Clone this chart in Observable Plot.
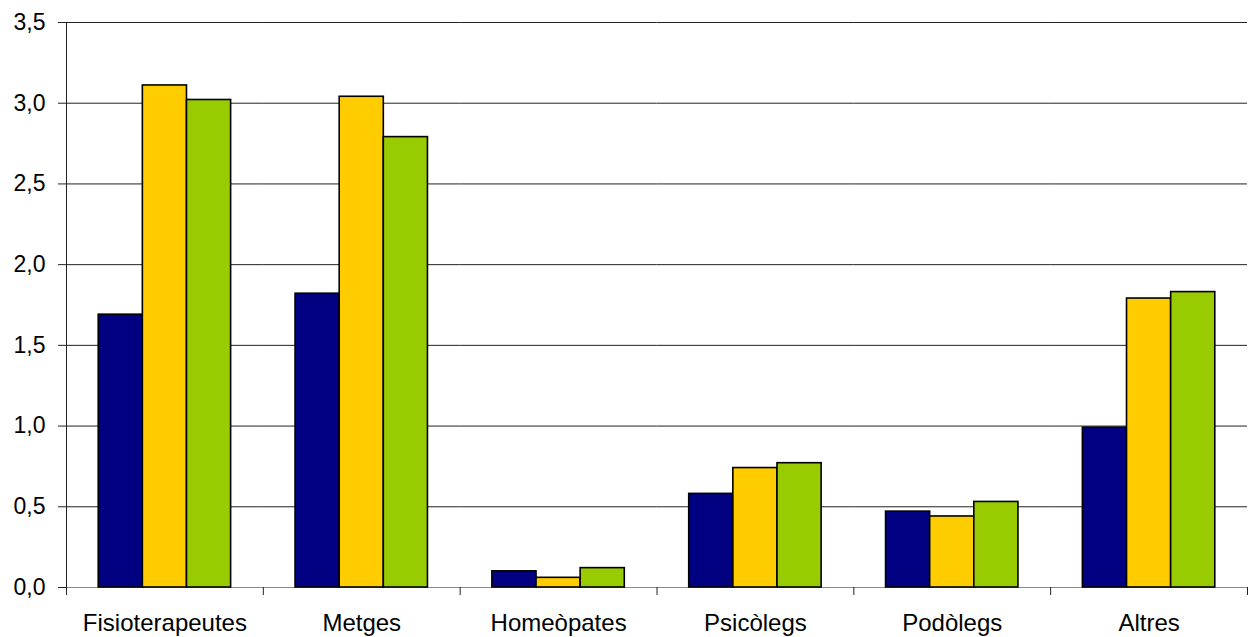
<!DOCTYPE html>
<html>
<head>
<meta charset="utf-8">
<script src="https://cdn.jsdelivr.net/npm/d3@7"></script>
<script src="https://cdn.jsdelivr.net/npm/@observablehq/plot@0.6"></script>
<style>
  html, body { margin: 0; padding: 0; background: #fff; }
  #chart svg { display: block; }
</style>
</head>
<body>
<div id="chart"></div>
<script>
// Professional groups on the horizontal axis
const categories = ["Fisioterapeutes", "Metges", "Homeòpates", "Psicòlegs", "Podòlegs", "Altres"];
// Three series shown side by side in every group
const seriesNames = ["Sèrie 1", "Sèrie 2", "Sèrie 3"];
const serie1 = [1.69, 1.82, 0.10, 0.58, 0.47, 0.99];
const serie2 = [3.11, 3.04, 0.06, 0.74, 0.44, 1.79];
const serie3 = [3.02, 2.79, 0.12, 0.77, 0.53, 1.83];
const seriesColors = ["#000080", "#ffcc00", "#99cc00"];
const yTicks = [0, 0.5, 1, 1.5, 2, 2.5, 3, 3.5];

const seriesValues = [serie1, serie2, serie3];
const rows = categories.flatMap((category, i) =>
  seriesNames.map((series, j) => ({category, series, value: seriesValues[j][i]}))
);

const width = 1250, height = 637;
const margin = {top: 22, right: 3, bottom: 50, left: 66};
const frameHeight = height - margin.top - margin.bottom;
const commaDecimal = v => v.toFixed(1).replace(".", ",");

const chart = Plot.plot({
  width, height,
  marginTop: margin.top, marginRight: margin.right,
  marginBottom: margin.bottom, marginLeft: margin.left,
  style: {fontFamily: "'Liberation Sans', Arial, sans-serif", color: "#000", background: "#fff"},
  fx: {domain: categories, padding: 0, round: false, label: null},
  x: {domain: seriesNames, paddingInner: 0, paddingOuter: 0.73, round: false, axis: null},
  y: {domain: [0, 3.5], label: null, axis: null},
  color: {domain: seriesNames, range: seriesColors},
  marks: [
    Plot.gridY(yTicks, {stroke: "#222", strokeOpacity: 1, strokeWidth: 1}),
    Plot.ruleY([0], {stroke: "#8a8a8a", strokeWidth: 1.2}),
    Plot.barY(rows, {fx: "category", x: "series", y: "value", fill: "series", stroke: "#000", strokeWidth: 1.6}),
    // category boundary ticks below the baseline
    Plot.frame({anchor: "left", insetTop: frameHeight, insetBottom: -7, stroke: "#222"}),
    Plot.frame({anchor: "right", facetAnchor: "right", insetTop: frameHeight, insetBottom: -7, stroke: "#222"}),
    // value axis line
    Plot.frame({anchor: "left", facetAnchor: "left", insetBottom: -7, stroke: "#222"}),
    Plot.axisY({ticks: yTicks, tickFormat: commaDecimal, tickSize: 8, tickPadding: 13, fontSize: 23, label: null, stroke: "#222"}),
    Plot.axisFx({anchor: "bottom", tickSize: 0, tickPadding: 26, fontSize: 24, label: null})
  ]
});

document.getElementById("chart").append(chart);
</script>
</body>
</html>
